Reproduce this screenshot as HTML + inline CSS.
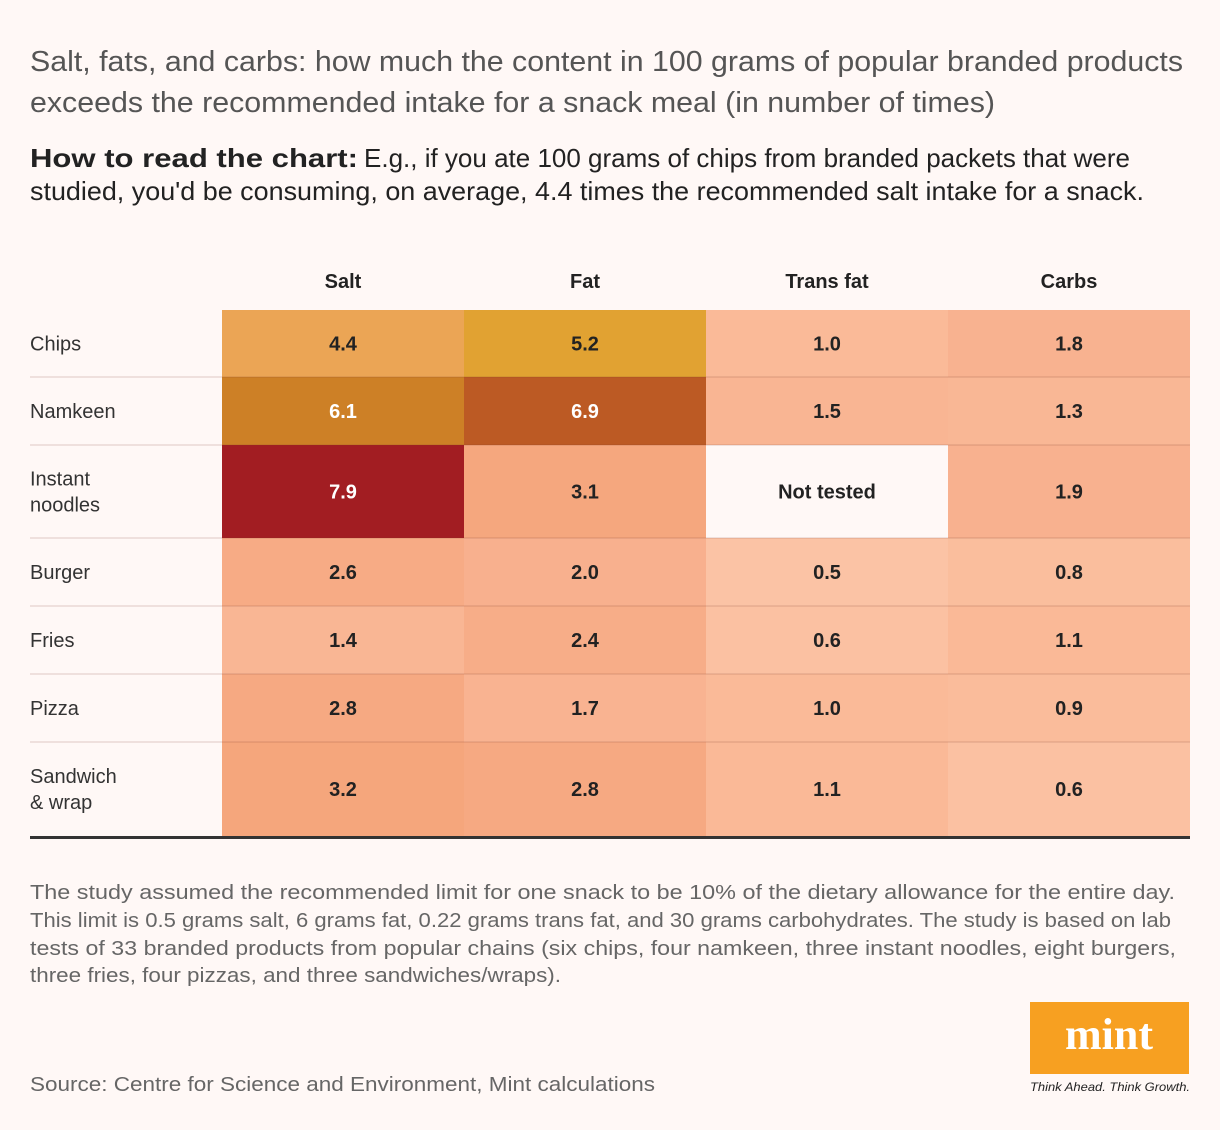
<!DOCTYPE html>
<html><head><meta charset="utf-8"><style>
html,body{margin:0;padding:0;background:#fff8f6;}
svg{display:block;font-family:"Liberation Sans",sans-serif;}
</style></head><body>
<svg id="chart" width="1220" height="1130" viewBox="0 0 1220 1130">
<rect x="0" y="0" width="1220" height="1130" fill="#fff8f6"/>
<g fill="#555" font-size="29">
<text x="30" y="71" textLength="1153" lengthAdjust="spacingAndGlyphs">Salt, fats, and carbs: how much the content in 100 grams of popular branded products</text>
<text x="30" y="112" textLength="965" lengthAdjust="spacingAndGlyphs">exceeds the recommended intake for a snack meal (in number of times)</text>
</g>
<g fill="#222" font-size="26">
<text x="30" y="167" font-weight="bold" textLength="328" lengthAdjust="spacingAndGlyphs">How to read the chart:</text>
<text x="364" y="167" textLength="766" lengthAdjust="spacingAndGlyphs">E.g., if you ate 100 grams of chips from branded packets that were</text>
<text x="30" y="200" textLength="1114" lengthAdjust="spacingAndGlyphs">studied, you'd be consuming, on average, 4.4 times the recommended salt intake for a snack.</text>
</g>
<g id="headers"></g>
<g id="rowlabels"></g>
<g id="cells"></g>
<g id="grid"></g>
<rect x="30" y="836" width="1160" height="3" fill="#333"/>
<g fill="#666" font-size="20">
<text x="30" y="899" textLength="1145" lengthAdjust="spacingAndGlyphs">The study assumed the recommended limit for one snack to be 10% of the dietary allowance for the entire day.</text>
<text x="30" y="927" textLength="1141" lengthAdjust="spacingAndGlyphs">This limit is 0.5 grams salt, 6 grams fat, 0.22 grams trans fat, and 30 grams carbohydrates. The study is based on lab</text>
<text x="30" y="955" textLength="1146" lengthAdjust="spacingAndGlyphs">tests of 33 branded products from popular chains (six chips, four namkeen, three instant noodles, eight burgers,</text>
<text x="30" y="982" textLength="531" lengthAdjust="spacingAndGlyphs">three fries, four pizzas, and three sandwiches/wraps).</text>
</g>
<text x="30" y="1091" fill="#666" font-size="20" textLength="625" lengthAdjust="spacingAndGlyphs">Source: Centre for Science and Environment, Mint calculations</text>
<g>
<rect x="1030" y="1002" width="159" height="72" fill="#f7a021"/>
<text x="1109" y="1049" text-anchor="middle" fill="#fff" font-family="'Liberation Serif',serif" font-weight="bold" font-size="44">mint</text>
<text x="1110" y="1091" text-anchor="middle" fill="#222" font-style="italic" font-size="12" textLength="160" lengthAdjust="spacingAndGlyphs">Think Ahead. Think Growth.</text>
</g>
</svg>
<script>
const columns = ["Salt", "Fat", "Trans fat", "Carbs"];
const rows = [["Chips"], ["Namkeen"], ["Instant", "noodles"], ["Burger"], ["Fries"], ["Pizza"], ["Sandwich", "& wrap"]];
const salt = [4.4, 6.1, 7.9, 2.6, 1.4, 2.8, 3.2];
const fat = [5.2, 6.9, 3.1, 2.0, 2.4, 1.7, 2.8];
const transFat = [1.0, 1.5, null, 0.5, 0.6, 1.0, 1.1];
const carbs = [1.8, 1.3, 1.9, 0.8, 1.1, 0.9, 0.6];
const series = [salt, fat, transFat, carbs];

const NS = "http://www.w3.org/2000/svg";
const colX0 = 222, colW = 242;
const rowY = [310, 377, 445, 538, 606, 674, 742, 836];
function xPos(i){ return colX0 + i * colW; }
const stops = [[0.5,[251,195,165]],[1.0,[250,186,152]],[2.0,[248,176,142]],[3.2,[245,166,124]],[4.4,[235,165,85]],[5.2,[225,162,50]],[6.1,[205,128,38]],[6.9,[188,90,36]],[7.9,[162,29,34]]];
function colorFor(v){
  if (v <= stops[0][0]) return "rgb(" + stops[0][1].join(",") + ")";
  for (let i = 1; i < stops.length; i++) {
    if (v <= stops[i][0]) {
      const t = (v - stops[i-1][0]) / (stops[i][0] - stops[i-1][0]);
      const c = stops[i-1][1].map((a, k) => Math.round(a + (stops[i][1][k] - a) * t));
      return "rgb(" + c.join(",") + ")";
    }
  }
  return "rgb(" + stops[stops.length-1][1].join(",") + ")";
}
function mk(tag, attrs, parent){
  const e = document.createElementNS(NS, tag);
  for (const k in attrs) e.setAttribute(k, attrs[k]);
  parent.appendChild(e);
  return e;
}
const hdr = document.getElementById("headers");
columns.forEach((c, i) => {
  const t = mk("text", {x: xPos(i) + colW/2, y: 288, "text-anchor": "middle", "font-weight": "bold", "font-size": 20, fill: "#222"}, hdr);
  
  
  t.textContent = c;
});
const rl = document.getElementById("rowlabels");
rows.forEach((r, j) => {
  const cy = (rowY[j] + rowY[j+1]) / 2;
  const start = cy + 7 - (r.length - 1) * 13;
  r.forEach((line, k) => {
    const t = mk("text", {x: 30, y: start + k * 26, "font-size": 20, fill: "#333"}, rl);
    
    
    t.textContent = line;
  });
});
const cells = document.getElementById("cells");
series.forEach((vals, i) => {
  vals.forEach((v, j) => {
    const y0 = rowY[j], h = rowY[j+1] - rowY[j];
    const r = mk("rect", {x: xPos(i), y: y0, width: colW, height: h, fill: v === null ? "#fff8f6" : colorFor(v)}, cells);
    
    
    const t = mk("text", {x: xPos(i) + colW/2, y: y0 + h/2 + 7, "text-anchor": "middle", "font-weight": "bold", "font-size": 20, fill: (v !== null && v >= 6) ? "#fff" : "#222"}, cells);
    
    
    t.textContent = v === null ? "Not tested" : v.toFixed(1);
  });
});
const grid = document.getElementById("grid");
for (let j = 1; j < rows.length; j++) {
  const l = mk("rect", {x: 30, y: rowY[j] - 1, width: 1160, height: 2, fill: "rgba(120,60,40,0.12)"}, grid);
  
  
}
</script>
</body></html>
